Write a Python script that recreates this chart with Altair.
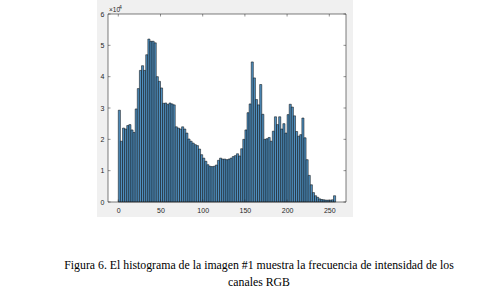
import altair as alt
import pandas as pd

# ---------------- data ----------------
BIN_WIDTH = 2.5
counts_1e4 = [
    2.93, 1.94, 2.36, 2.33, 2.44, 2.47, 2.30, 2.22, 2.97, 3.62,
    4.20, 4.35, 4.20, 4.70, 5.20, 5.13, 5.13, 5.08, 4.00, 3.85,
    3.64, 3.15, 3.16, 3.11, 3.16, 3.13, 3.10, 2.40, 2.36, 2.33,
    2.40, 2.33, 2.20, 2.01, 1.94, 1.88, 1.83, 1.80, 1.69, 1.51,
    1.40, 1.30, 1.19, 1.14, 1.13, 1.14, 1.18, 1.33, 1.40, 1.37,
    1.37, 1.35, 1.37, 1.40, 1.45, 1.48, 1.54, 1.47, 1.70, 2.00,
    2.30, 2.85, 3.13, 4.47, 3.96, 3.27, 3.10, 3.75, 2.80, 2.00,
    2.02, 2.06, 1.94, 2.26, 2.72, 2.47, 2.72, 2.33, 2.50, 2.20,
    2.79, 3.12, 3.03, 2.75, 2.25, 2.10, 2.15, 2.68, 2.05, 1.35,
    0.85, 0.55, 0.30, 0.20, 0.15, 0.10, 0.08, 0.07, 0.06, 0.06,
    0.06, 0.07, 0.20,
]
x_ticks = [0, 50, 100, 150, 200, 250]
y_ticks = [0, 1, 2, 3, 4, 5, 6]
x_domain = [-12.2, 269.8]
y_domain = [0, 6]
exponent_base = "\u00d710"
exponent_power = "4"
caption_1 = "Figura 6. El histograma de la imagen #1 muestra la frecuencia de intensidad de los"
caption_2 = "canales RGB"

# ---------------- layout ----------------
W, H = 238, 188
PAD_L, PAD_T = 108, 14
CANVAS_W, CANVAS_H = 489, 295
AX = "#262626"
FONT = "Liberation Sans"

bars_df = pd.DataFrame({
    "start": [i * BIN_WIDTH for i in range(len(counts_1e4))],
    "count": counts_1e4,
})
bars_df["end"] = bars_df["start"] + BIN_WIDTH
bars_df["zero"] = 0.0

xs = alt.Scale(domain=x_domain, nice=False, zero=False)
ys = alt.Scale(domain=y_domain, nice=False, zero=True)
x_axis = alt.Axis(values=x_ticks, title=None, grid=False, ticks=False, tickSize=0,
                  domain=False, labelFontSize=7, labelColor=AX, labelFont=FONT,
                  labelPadding=4, labelOverlap=False, zindex=1)
y_axis = alt.Axis(values=y_ticks, title=None, grid=False, ticks=False, tickSize=0,
                  domain=False, labelFontSize=7, labelColor=AX, labelFont=FONT,
                  labelPadding=4, labelOverlap=False, zindex=1)
one = pd.DataFrame({"k": [0]})

fig_bg = alt.Chart(one).mark_rect(fill="#f0f0f0").encode(
    x=alt.value(97 - PAD_L), x2=alt.value(353 - PAD_L),
    y=alt.value(-PAD_T), y2=alt.value(217 - PAD_T),
)
plot_bg = alt.Chart(one).mark_rect(fill="white").encode(
    x=alt.value(0), x2=alt.value(W), y=alt.value(0), y2=alt.value(H),
)

bars = alt.Chart(bars_df).mark_rect(
    fill="#4f8fbf", stroke="#000000", strokeWidth=0.5
).encode(
    x=alt.X("start:Q", scale=xs, axis=x_axis),
    x2="end:Q",
    y=alt.Y("count:Q", scale=ys, axis=y_axis),
    y2="zero:Q",
)

xt_df = pd.DataFrame({"t": x_ticks})
yt_df = pd.DataFrame({"t": y_ticks})
tick_style = dict(color=AX, strokeWidth=0.5)
xt_bottom = alt.Chart(xt_df).mark_rule(**tick_style).encode(
    x=alt.X("t:Q", scale=xs, axis=x_axis), y=alt.value(H), y2=alt.value(H - 2.5))
xt_top = alt.Chart(xt_df).mark_rule(**tick_style).encode(
    x=alt.X("t:Q", scale=xs, axis=x_axis), y=alt.value(0), y2=alt.value(2.5))
yt_left = alt.Chart(yt_df).mark_rule(**tick_style).encode(
    y=alt.Y("t:Q", scale=ys, axis=y_axis), x=alt.value(0), x2=alt.value(2.5))
yt_right = alt.Chart(yt_df).mark_rule(**tick_style).encode(
    y=alt.Y("t:Q", scale=ys, axis=y_axis), x=alt.value(W), x2=alt.value(W - 2.5))

box = alt.Chart(one).mark_rect(fill=None, stroke=AX, strokeWidth=0.6).encode(
    x=alt.value(0), x2=alt.value(W), y=alt.value(0), y2=alt.value(H),
)

exp_base = alt.Chart(one).mark_text(
    text=exponent_base, fontSize=6.5, font=FONT, color=AX, align="left", baseline="alphabetic"
).encode(x=alt.value(1), y=alt.value(-2))
exp_pow = alt.Chart(one).mark_text(
    text=exponent_power, fontSize=5, font=FONT, color=AX, align="left", baseline="alphabetic"
).encode(x=alt.value(11), y=alt.value(-5))

cap1 = alt.Chart(one).mark_text(
    text=caption_1, fontSize=11.8, font="Liberation Serif", color="#000000",
    align="center", baseline="alphabetic"
).encode(x=alt.value(259 - PAD_L), y=alt.value(269 - PAD_T))
cap2 = alt.Chart(one).mark_text(
    text=caption_2, fontSize=11.8, font="Liberation Serif", color="#000000",
    align="center", baseline="alphabetic"
).encode(x=alt.value(259 - PAD_L), y=alt.value(286 - PAD_T))

chart = alt.layer(
    fig_bg, plot_bg, bars, xt_bottom, xt_top, yt_left, yt_right, box,
    exp_base, exp_pow, cap1, cap2,
).properties(
    width=W, height=H,
    autosize=alt.AutoSizeParams(type="none"),
    padding={"left": PAD_L, "top": PAD_T,
             "right": CANVAS_W - PAD_L - W, "bottom": CANVAS_H - PAD_T - H},
    background="white",
).configure_view(stroke=None)

chart.save("out.html", embed_options={"renderer": "svg", "actions": False})
